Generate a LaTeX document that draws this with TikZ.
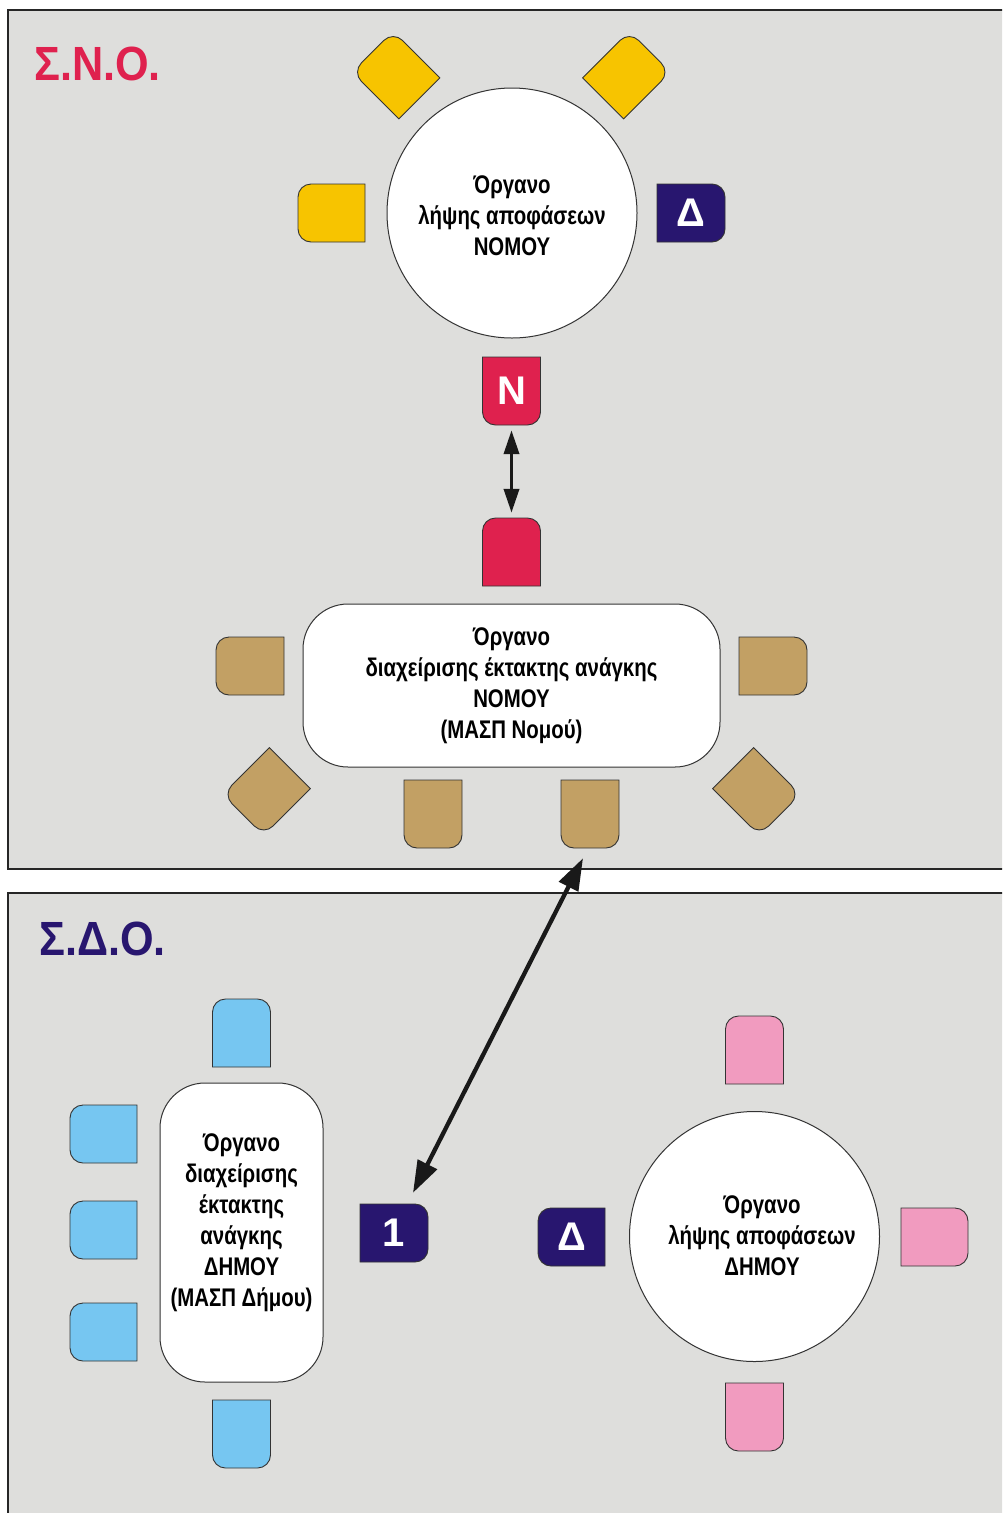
\documentclass[tikz,border=0pt]{standalone}
\usepackage{fontspec}
\setmainfont{Liberation Sans}
\newfontfamily\narrowfont[FakeStretch=0.8]{Liberation Sans}
\newfontfamily\titlefont[FakeStretch=0.9]{Liberation Sans}
\usetikzlibrary{arrows.meta}
\definecolor{panelbg}{HTML}{DEDEDC}
\definecolor{chyellow}{HTML}{F7C400}
\definecolor{chnavy}{HTML}{28166F}
\definecolor{chred}{HTML}{DF214E}
\definecolor{chtan}{HTML}{C2A064}
\definecolor{chblue}{HTML}{76C6F1}
\definecolor{chpink}{HTML}{F19BBF}
\definecolor{edgegray}{HTML}{333333}
\newcommand\chairat[4]{%
  \begin{scope}[shift={#1},rotate=#2]
    \pgfmathsetmacro\chairhd{#4/2}
    \path[fill=#3,draw=edgegray,line width=0.9pt]
      ({-\chairhd pt},-29pt) -- ({\chairhd pt-13pt},-29pt)
      arc[start angle=-90,end angle=0,radius=13pt]
      -- ({\chairhd pt},16pt)
      arc[start angle=0,end angle=90,radius=13pt]
      -- ({-\chairhd pt},29pt) -- cycle;
  \end{scope}}
\begin{document}
\begin{tikzpicture}[x=1pt,y=-1pt,
  panel/.style={fill=panelbg,draw=black!85,line width=1.2pt},
  tabletext/.style={align=center,font=\narrowfont\bfseries\fontsize{25.5}{31}\selectfont,text=black,inner sep=0pt},
  circtable/.style={circle,fill=white,draw=edgegray,line width=1pt,minimum size=250pt,inner sep=0pt},
  recttable/.style={rectangle,fill=white,draw=edgegray,line width=1pt,rounded corners=45pt,inner sep=0pt},
  chairlbl/.style={text=white,font=\bfseries\fontsize{40}{40}\selectfont,inner sep=0pt},
  vlbl/.style={chairlbl,minimum width=58pt,minimum height=68pt},
  hlbl/.style={chairlbl,minimum width=68pt,minimum height=58pt},
  titletext/.style={font=\titlefont\bfseries\fontsize{48}{48}\selectfont,anchor=base west,inner sep=0pt},
  bigarrow/.style={line width=3.8pt,black!90,{Triangle[length=24pt,width=15pt]}-{Triangle[length=24pt,width=15pt]}},
  bigarrowb/.style={line width=4.3pt,black!90,{Triangle[length=32pt,width=21pt]}-{Triangle[length=32pt,width=21pt]}}
]
\useasboundingbox (0,0) rectangle (1002,1513);
\clip (0,0) rectangle (1002,1513);
\fill[white] (0,0) rectangle (1002,1513);

% panels
\draw[panel] (8,10) rectangle (1020,869);
\draw[panel] (8,893) rectangle (1020,1530);

% titles
\node[titletext,text=chred] (title1) at (34,80) {Σ.Ν.Ο.};
\node[titletext,text=chnavy] (title2) at (39,955) {Σ.Δ.Ο.};

% ---------- top: decision body of the prefecture ----------
\chairat{(396,75)}{135}{chyellow}{66}
\chairat{(626.5,75)}{45}{chyellow}{66}
\chairat{(331.5,213)}{180}{chyellow}{67}
\chairat{(691,213)}{0}{chnavy}{68}
\node[hlbl] (cD1) at (691,213) {Δ};
\node[circtable] (t1) at (512,213) {};
\node[tabletext] (t1txt) at (512,215.5) {Όργανο\\λήψης αποφάσεων\\ΝΟΜΟΥ};

\chairat{(511.5,391)}{270}{chred}{68}
\node[vlbl] (cN) at (511.5,391) {N};
\chairat{(511.5,552)}{90}{chred}{68}
\node[vlbl] (cR) at (511.5,552) {};

% ---------- top: emergency body of the prefecture ----------
\chairat{(250,666)}{180}{chtan}{68}
\chairat{(773,666)}{0}{chtan}{68}
\chairat{(266.5,791.5)}{225}{chtan}{66}
\chairat{(756.5,791.5)}{-45}{chtan}{66}
\chairat{(433,814)}{270}{chtan}{68}
\chairat{(590,814)}{270}{chtan}{68}
\node[vlbl] (b2) at (590,814) {};
\node[recttable,minimum width=417pt,minimum height=163pt] (t2) at (511.5,685.5) {};
\node[tabletext] (t2txt) at (511.5,686) {Όργανο\\διαχείρισης έκτακτης ανάγκης\\ΝΟΜΟΥ\\(ΜΑΣΠ Νομού)};

% ---------- bottom: emergency body of the municipality ----------
\chairat{(241.5,1033)}{90}{chblue}{68}
\chairat{(103.5,1134)}{180}{chblue}{67}
\chairat{(103.5,1230)}{180}{chblue}{67}
\chairat{(103.5,1332)}{180}{chblue}{67}
\chairat{(241.5,1434)}{270}{chblue}{68}
\node[recttable,minimum width=163pt,minimum height=299pt] (t3) at (241.5,1232.5) {};
\node[tabletext] (t3txt) at (241.5,1223) {Όργανο\\διαχείρισης\\έκτακτης\\ανάγκης\\ΔΗΜΟΥ\\(ΜΑΣΠ Δήμου)};
\chairat{(394,1233)}{0}{chnavy}{68}
\node[hlbl] (c1) at (394,1233) {1};

% ---------- bottom: decision body of the municipality ----------
\chairat{(754.5,1050)}{90}{chpink}{68}
\chairat{(934.5,1237)}{0}{chpink}{67}
\chairat{(754.5,1417)}{270}{chpink}{68}
\chairat{(571.5,1237)}{180}{chnavy}{67}
\node[hlbl] (cD2) at (571.5,1237) {Δ};
\node[circtable] (t4) at (754.5,1236.5) {};
\node[tabletext] (t4txt) at (762,1236) {Όργανο\\λήψης αποφάσεων\\ΔΗΜΟΥ};

% ---------- arrows ----------
\draw[bigarrow,shorten <=5pt,shorten >=5pt] (cN.south) -- (cR.north);
\draw[bigarrowb] ([xshift=-7pt,yshift=-10pt]b2.south) -- ([xshift=19pt,yshift=11pt]c1.north);
\end{tikzpicture}
\end{document}
